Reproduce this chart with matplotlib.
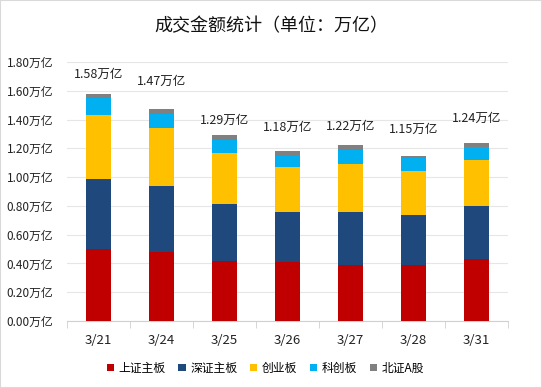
import numpy as np
import matplotlib.pyplot as plt
from matplotlib.patches import Rectangle

plt.rcParams['font.family'] = ['Noto Sans CJK SC', 'DejaVu Sans']

# 数据 (单位: 万亿)
dates = ['3/21', '3/24', '3/25', '3/26', '3/27', '3/28', '3/31']
sh_main = [0.50, 0.48, 0.42, 0.41, 0.39, 0.39, 0.43]
sz_main = [0.49, 0.46, 0.39, 0.35, 0.37, 0.35, 0.37]
chinext = [0.44, 0.40, 0.36, 0.31, 0.33, 0.30, 0.32]
star = [0.12, 0.10, 0.09, 0.08, 0.10, 0.09, 0.09]
bse = [0.03, 0.03, 0.03, 0.03, 0.03, 0.02, 0.03]
totals = [1.58, 1.47, 1.29, 1.18, 1.22, 1.15, 1.24]
label_y = [1.714, 1.666, 1.394, 1.345, 1.352, 1.331, 1.408]

series = [
    ('上证主板', sh_main, '#C00000'),
    ('深证主板', sz_main, '#1F497D'),
    ('创业板', chinext, '#FFC000'),
    ('科创板', star, '#00B0F0'),
    ('北证A股', bse, '#808080'),
]

fig = plt.figure(figsize=(5.42, 3.88), dpi=100)
ax = fig.add_axes([67 / 542, 1 - 321 / 388, 441 / 542, 259 / 388])

x = np.arange(len(dates))
bottom = np.zeros(len(dates))
for name, vals, color in series:
    ax.bar(x, vals, width=0.41, bottom=bottom, color=color, label=name, zorder=3)
    bottom += np.array(vals)

for xi, t, ly in zip(x, totals, label_y):
    ax.text(xi, ly, f'{t:.2f}万亿', ha='center', va='center', fontsize=9, color='#222222')

ax.set_xlim(-0.5, len(dates) - 0.5)
ax.set_ylim(0, 1.8)
ax.set_yticks(np.arange(0, 1.81, 0.2))
ax.set_yticklabels([f'{v:.2f}万亿' for v in np.arange(0, 1.81, 0.2)])
ax.yaxis.grid(True, color='#e6e6e6', linewidth=0.8, zorder=0)
ax.tick_params(axis='y', length=0, labelsize=8.5, labelcolor='#222222', pad=10)

ax.set_xticks(x)
ax.set_xticklabels(dates)
ax.tick_params(axis='x', length=0, labelsize=9.5, labelcolor='#222222', pad=9)
ax.set_xticks(np.arange(-0.5, len(dates)), minor=True)
ax.tick_params(axis='x', which='minor', length=5, color='#d0d0d0', direction='out')

for s in ['top', 'right', 'left']:
    ax.spines[s].set_visible(False)
ax.spines['bottom'].set_color('#d0d0d0')

fig.suptitle('成交金额统计（单位：万亿）', x=0.5, y=1 - 26 / 388, va='center', fontsize=13, color='#111111')

fig.legend(loc='center', bbox_to_anchor=(0.49, 1 - 368 / 388), ncol=5, frameon=False,
           fontsize=8.5, handlelength=0.6, handleheight=0.6, handletextpad=0.4, columnspacing=1.1)

fig.patches.append(Rectangle((0, 0), 1, 1, transform=fig.transFigure, fill=False,
                             edgecolor='#d9d9d9', linewidth=1.5))

fig.savefig('out.png', dpi=100)
